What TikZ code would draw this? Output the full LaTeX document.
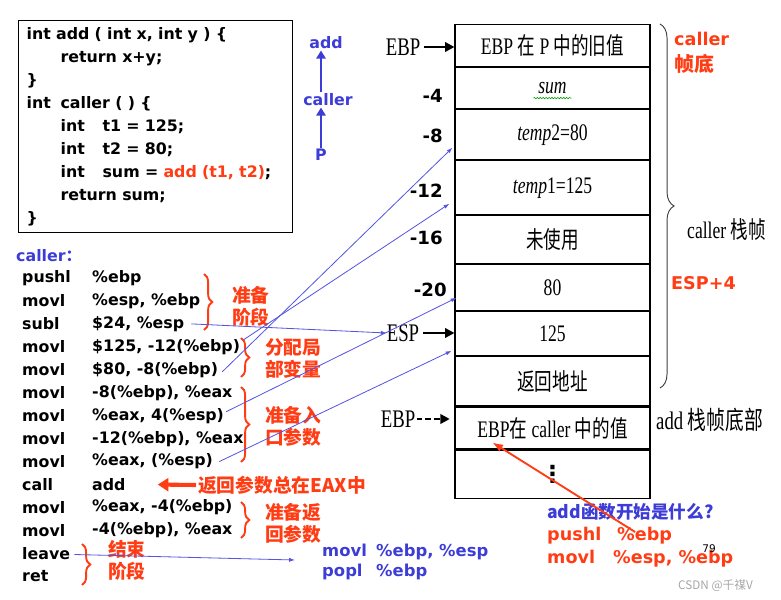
\documentclass[tikz,border=0pt]{standalone}
\usepackage{fontspec}
\usepackage{graphicx}
\setmainfont{Liberation Serif}
\newfontfamily\codefont{DejaVu Sans}
\newfontfamily\cjkfont{Noto Sans CJK SC}
\usetikzlibrary{arrows.meta, positioning, calc, decorations.pathreplacing, decorations.pathmorphing}
\definecolor{fnblue}{RGB}{60,60,215}
\definecolor{notered}{RGB}{255,60,20}
\definecolor{linkblue}{RGB}{85,85,225}
\newcommand{\zh}[1]{{\cjkfont #1}}
\newcommand{\tallbox}[1]{\scalebox{1}[1.35]{#1}}
\tikzset{
  cell/.style={draw, line width=0.9pt, minimum width=5.85cm, inner sep=0pt,
    font=\fontsize{15}{17}\selectfont},
  codebox/.style={draw, line width=1pt, text width=7.74cm, inner xsep=0.24cm, inner ysep=0pt,
    minimum height=6.36cm, align=left, font=\codefont\bfseries\fontsize{13.5}{19.6}\selectfont},
  asm/.style={anchor=west, inner sep=0pt, font=\codefont\bfseries\fontsize{13.5}{16}\selectfont},
  fnlabel/.style={inner sep=1pt, text=fnblue, font=\codefont\bfseries\fontsize{13.5}{16}\selectfont},
  offs/.style={anchor=east, inner sep=0pt, font=\codefont\bfseries\fontsize{15.5}{18}\selectfont},
  reg/.style={inner sep=0pt, font=\fontsize{16}{18}\selectfont},
  rednote/.style={anchor=west, inner sep=0pt, align=left, text=notered,
    font=\cjkfont\bfseries\fontsize{16}{18.8}\selectfont},
  redbrace/.style={draw=notered, line width=1.6pt, decorate, decoration={brace, amplitude=7pt}},
  link/.style={draw=linkblue, line width=0.7pt, -{Latex[length=5pt,width=3.5pt]}},
  regarr/.style={line width=2pt, -{Triangle[length=8pt,width=8pt]}},
  fnarr/.style={draw=fnblue, line width=2.2pt, -{Triangle[length=7pt,width=8pt]}},
  redarr/.style={draw=notered, line width=1.6pt, -{Latex[length=9pt,width=7pt]}},
  bigred/.style={draw=notered, line width=3.5pt, -{Triangle[length=9pt,width=11pt]}}
}

\begin{document}
\begin{tikzpicture}[x=0.03cm, y=-0.03cm]
\useasboundingbox (0,0) rectangle (781,600);

% C source
\node[codebox, anchor=north west] (src) at (18,20) {int add ( int x, int y ) \{\\
\hspace*{1.02cm}return x+y;\\
\}\\
\makebox[1.02cm][l]{int}caller ( ) \{\\
\hspace*{1.02cm}\makebox[1.26cm][l]{int}t1 = 125;\\
\hspace*{1.02cm}\makebox[1.26cm][l]{int}t2 = 80;\\
\hspace*{1.02cm}\makebox[1.26cm][l]{int}sum = \textcolor{notered}{add (t1, t2)};\\
\hspace*{1.02cm}return sum;\\
\}};

% call chain
\node[fnlabel] (fadd) at (326,43) {add};
\node[fnlabel] (fcaller) at (328,100) {caller};
\node[fnlabel] (fp) at (321,155) {P};
\draw[fnarr] (fp.north) -- (fp.north |- fcaller.south);
\draw[fnarr] (fcaller.north -| fp.north) -- (fp.north |- fadd.south);

% Stack
\node[cell, minimum height=1.26cm, anchor=north] (c0) at (552.5,24) {\tallbox{EBP \zh{在} P \zh{中的旧值}}};
\node[cell, minimum height=1.23cm, below=0pt of c0] (c1) {\tallbox{\textit{sum}}};
\node[cell, minimum height=1.50cm, below=0pt of c1] (c2) {\tallbox{\textit{temp}2=80}};
\node[cell, minimum height=1.62cm, below=0pt of c2] (c3) {\tallbox{\textit{temp}1=125}};
\node[cell, minimum height=1.44cm, below=0pt of c3] (c4) {\tallbox{\zh{未使用}}};
\node[cell, minimum height=1.38cm, below=0pt of c4] (c5) {\tallbox{80}};
\node[cell, minimum height=1.32cm, below=0pt of c5] (c6) {\tallbox{125}};
\node[cell, minimum height=1.47cm, below=0pt of c6] (c7) {\tallbox{\zh{返回地址}}};
\node[cell, minimum height=1.26cm, below=0pt of c7] (c8) {\tallbox{EBP\zh{在} caller \zh{中的值}}};
\node[cell, minimum height=1.44cm, below=0pt of c8] (c9) {{\codefont\bfseries\fontsize{20}{22}\selectfont ⋮}};
\draw[green!60!black, line width=0.5pt, decorate, decoration={snake, amplitude=0.6pt, segment length=2.5pt}]
  ($(c1.center)+(-19,10)$) -- ($(c1.center)+(19,10)$);

% registers and offsets
\node[reg] (ebp) at (403,47) {\tallbox{EBP}};
\draw[regarr] ([xshift=3pt]ebp.east) -- (ebp.east -| c0.west);
\node[reg] (esp) at (403,333) {\tallbox{ESP}};
\draw[regarr] ([xshift=3pt]esp.east) -- (esp.east -| c6.west);
\node[reg] (ebpadd) at (398,419) {\tallbox{EBP}};
\draw[regarr, dash pattern=on 5pt off 2.5pt] ([xshift=1pt]ebpadd.east) -- ([xshift=-4pt]ebpadd.east -| c8.west);
\node[offs] (o4) at (443,96) {-4};
\node[offs] (o8) at (443,136) {-8};
\node[offs] (o12) at (443,191) {-12};
\node[offs] (o16) at (443,238) {-16};
\node[offs] (o20) at (447,290) {-20};

% right side
\draw[black!75, line width=0.8pt, decorate, decoration={brace, amplitude=12pt}] (660,24) -- (660,388);
\node[anchor=west, inner sep=0pt, align=left, text=notered, font=\codefont\bfseries\fontsize{15}{22}\selectfont]
  (cbase) at (674,53) {caller\\{\cjkfont\fontsize{17}{22}\selectfont 帧底}};
\node[reg, anchor=west, font=\fontsize{15}{17}\selectfont] (cframe) at (687,230) {\tallbox{caller \zh{栈帧}}};
\node[anchor=west, inner sep=0pt, text=notered, font=\codefont\bfseries\fontsize{15}{17}\selectfont]
  (espfour) at (671,283) {ESP+4};
\node[reg, anchor=west] (addbase) at (656,420) {\tallbox{add \zh{栈帧底部}}};

% assembly
\node[asm, text=fnblue] (calllbl) at (16,256) {caller\zh{：}};
\foreach \op/\arg [count=\i] in {pushl/\%ebp, movl/{\%esp, \%ebp}, subl/{\$24, \%esp},
  movl/{\$125, -12(\%ebp)}, movl/{\$80, -8(\%ebp)}, movl/{-8(\%ebp), \%eax},
  movl/{\%eax, 4(\%esp)}, movl/{-12(\%ebp), \%eax}, movl/{\%eax, (\%esp)},
  call/add, movl/{\%eax, -4(\%ebp)}, movl/{-4(\%ebp), \%eax}}
{
  \node[asm] (m\i) at (22,{278+22.95*(\i-1)}) {\op};
  \node[asm] (a\i) at (92,{278+22.95*(\i-1)}) {\arg};
}
\node[asm] (m13) at (22,553.5) {leave};
\node[asm] (m14) at (22,576.5) {ret};

% phases
\draw[redbrace] (204,274) -- (204,330);
\node[rednote] (prep) at (232,306) {准备\\阶段};
\draw[redbrace] (241,338) -- (241,377);
\node[rednote] (alloc) at (265,358) {分配局\\部变量};
\draw[redbrace] (241,387) -- (241,462);
\node[rednote] (args) at (265,426) {准备入\\口参数};
\draw[redbrace] (241,502) -- (241,538);
\node[rednote] (retv) at (265,523) {准备返\\回参数};
\draw[redbrace] (82,544) -- (82,585);
\node[rednote] (fin) at (108,560) {结束\\阶段};
\node[rednote] (eaxnote) at (198,485) {返回参数总在EAX中};
\draw[bigred] ($(eaxnote.west)+(-2,0)$) -- ($(a10.east)+(32,0)$);

% epilogue
\node[anchor=west, inner sep=0pt, align=left, text=fnblue, font=\codefont\bfseries\fontsize{14}{17}\selectfont]
  (epil) at (322,562) {\makebox[1.62cm][l]{movl}\%ebp, \%esp\\\makebox[1.62cm][l]{popl}\%ebp};

% links into the stack
\draw[link] ($(a3.east)+(7,0)$) -- (esp.west);
\draw[link] ($(a4.north east)+(3,1)$) -- ($(c3.west)+(-5,16)$);
\draw[link] ($(a5.east)+(4,2)$) -- ($(c2.west)+(-2,13)$);
\draw[link] ($(a7.east)+(2,-4)$) -- ($(c5.west)+(2,10)$);
\draw[link] ($(a9.east)+(6,0)$) -- ($(c6.west)+(-3,17)$);
\draw[link] ($(m13.east)+(4,1)$) -- ($(epil.west)+(-27,-2)$);

% add prologue
\node[anchor=west, inner sep=0pt, text=fnblue, font=\cjkfont\bfseries\fontsize{15}{17}\selectfont]
  (quest) at (547,512) {add函数开始是什么?};
\node[anchor=west, inner sep=0pt, text=notered, font=\codefont\bfseries\fontsize{15}{17}\selectfont]
  (q1) at (547,536) {\makebox[2.1cm][l]{pushl}\%ebp};
\node[anchor=west, inner sep=0pt, text=notered, font=\codefont\bfseries\fontsize{15}{17}\selectfont]
  (q2) at (547,559) {\makebox[1.98cm][l]{movl}\%esp, \%ebp};
\draw[redarr] ($(q1.east)+(-37,-4)$) -- ($(c8.south west)+(38,-7)$);

\node[inner sep=0pt, font=\codefont\fontsize{9}{10}\selectfont] (pg) at (709,549) {79};
\node[anchor=west, inner sep=0pt, text=black!35, font=\cjkfont\fontsize{10}{12}\selectfont] (wm) at (678,586) {CSDN @千禖V};

\end{tikzpicture}
\end{document}
